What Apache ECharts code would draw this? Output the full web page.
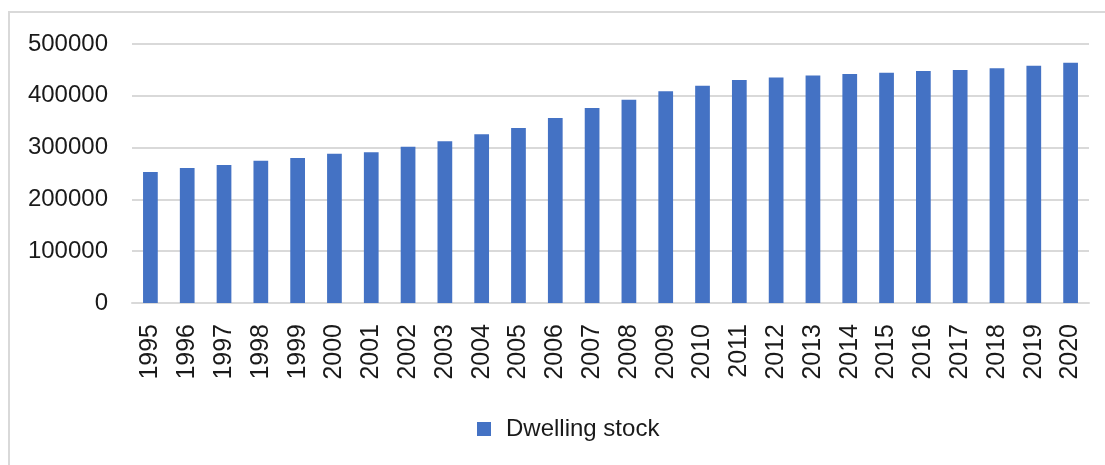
<!DOCTYPE html>
<html>
<head>
<meta charset="utf-8">
<script src="https://cdn.jsdelivr.net/npm/echarts@6/dist/echarts.min.js"></script>
<style>
  html, body { margin: 0; padding: 0; background: #fff; }
  #chart { width: 1105px; height: 465px; }
</style>
</head>
<body>
<div id="chart"></div>
<script>
// Years on the category axis
const years = ['1995','1996','1997','1998','1999','2000','2001','2002','2003','2004','2005','2006','2007',
               '2008','2009','2010','2011','2012','2013','2014','2015','2016','2017','2018','2019','2020'];

// Dwelling stock per year
const dwellingStock = [253000, 260500, 266500, 274500, 280000, 288000, 291000, 301500, 312500, 326000,
                       338000, 357000, 376500, 392500, 409000, 419500, 430500, 435500, 439000, 442000,
                       444500, 448000, 450000, 453000, 458000, 464000];

const seriesName = 'Dwelling stock';

const FONT = '"Liberation Sans", Arial, sans-serif';
const TEXT = '#1a1a1a';
const GRID = '#d9d9d9';

const chart = echarts.init(document.getElementById('chart'), null, { renderer: 'canvas' });

chart.setOption({
  animation: false,
  backgroundColor: '#ffffff',
  graphic: [{
    type: 'rect',
    shape: { x: 9, y: 12, width: 1200, height: 600 },
    style: { fill: 'none', stroke: GRID, lineWidth: 2 },
    silent: true
  }],
  grid: { left: 132, right: 16, top: 44, bottom: 162, containLabel: false },
  legend: {
    data: [seriesName],
    left: 472,
    top: 412,
    icon: 'rect',
    itemWidth: 14,
    itemHeight: 14,
    textStyle: { fontFamily: FONT, fontSize: 24, color: TEXT, padding: [0, 0, 0, 10] }
  },
  xAxis: {
    type: 'category',
    data: years,
    axisLine: { show: true, lineStyle: { color: GRID, width: 2 } },
    axisTick: { show: false },
    axisLabel: { rotate: 90, margin: 21, interval: 0, fontFamily: FONT, fontSize: 25, color: TEXT }
  },
  yAxis: {
    type: 'value',
    min: 0,
    max: 500000,
    interval: 100000,
    axisLine: { show: false },
    axisTick: { show: false },
    splitLine: { lineStyle: { color: GRID, width: 2 } },
    axisLabel: { margin: 24, fontFamily: FONT, fontSize: 24, color: TEXT, formatter: v => String(v) }
  },
  series: [{
    name: seriesName,
    type: 'bar',
    data: dwellingStock,
    barWidth: '40%',
    itemStyle: { color: '#4472c4' }
  }]
});
</script>
</body>
</html>
